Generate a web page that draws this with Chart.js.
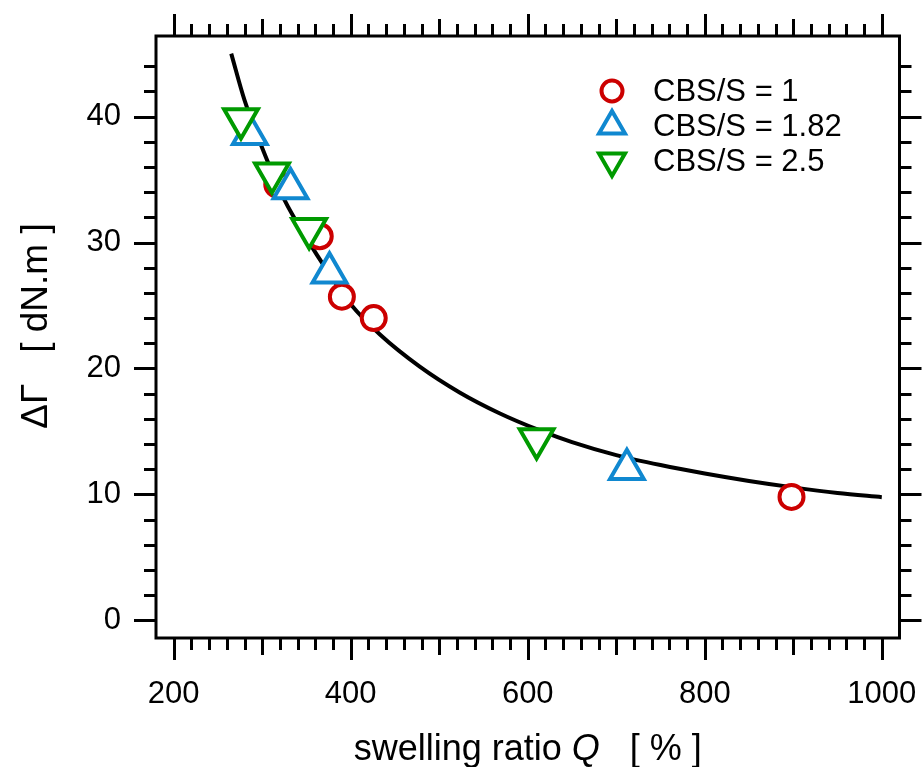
<!DOCTYPE html>
<html lang="en">
<head>
<meta charset="UTF-8">
<title>Swelling ratio vs torque difference</title>
<script src="https://cdn.jsdelivr.net/npm/chart.js"></script>
<style>
  body { margin: 0; background: #fff; }
</style>
</head>
<body>
<canvas id="chart" width="923" height="767"></canvas>
<script>
// measured points, one pair of arrays per CBS/S ratio
const q1 = [317, 365, 390, 426, 898];
const g1 = [34.6, 30.5, 25.7, 24.0, 9.8];
const q182 = [286, 332, 376, 712];
const g182 = [38.6, 34.3, 27.6, 12.0];
const q25 = [276, 311, 353, 610];
const g25 = [39.8, 35.5, 31.1, 14.4];

// fitted curve
const fitQ = [265, 280, 300, 325, 350, 375, 400, 433, 478, 523, 568, 613, 650, 700, 750, 800, 850, 900, 950, 1000];
const fitG = [45.0, 41.3, 37.5, 33.4, 30.35, 27.6, 25.1, 22.7, 20.15, 18.1, 16.45, 15.1, 14.15, 13.12, 12.33, 11.66, 11.07, 10.56, 10.12, 9.78];

const xTicks = [200, 400, 600, 800, 1000];
const yTicks = [0, 10, 20, 30, 40];
const legendLabels = ['CBS/S = 1', 'CBS/S = 1.82', 'CBS/S = 2.5'];
const xTitle = [['swelling ratio ', 'normal'], ['Q', 'italic'], ['   [ % ]', 'normal']];
const yTitle = 'ΔΓ   [ dN.m ]';

const FONT = '"Liberation Sans", Arial, sans-serif';
const RED = '#cc0000', BLUE = '#1088d0', GREEN = '#009a00';

const toPts = (xs, ys) => xs.map((v, i) => ({ x: v, y: ys[i] }));

function marker(color, style, rot, r) {
  return {
    pointStyle: style, pointRotation: rot, pointRadius: r, pointHoverRadius: r,
    pointBorderWidth: 4, pointBorderColor: color, pointBackgroundColor: '#fff',
    borderColor: color, backgroundColor: '#fff', showLine: false
  };
}

const datasets = [
  Object.assign({ label: legendLabels[0], data: toPts(q1, g1), order: 3, legendR: 10.5 }, marker(RED, 'circle', 0, 12)),
  Object.assign({ label: legendLabels[1], data: toPts(q182, g182), order: 2, legendR: 15 }, marker(BLUE, 'triangle', 0, 19.5)),
  Object.assign({ label: legendLabels[2], data: toPts(q25, g25), order: 1, legendR: 15 }, marker(GREEN, 'triangle', 180, 19.5)),
  {
    label: 'fit', data: toPts(fitQ, fitG), order: 4, showLine: true,
    borderColor: '#000', borderWidth: 4, pointRadius: 0, pointHoverRadius: 0,
    cubicInterpolationMode: 'monotone', fill: false
  }
];

// box frame with outward ticks on all four sides
const frame = {
  id: 'frame',
  afterDraw(chart) {
    const { ctx, chartArea: a, scales: { x, y } } = chart;
    ctx.save();
    ctx.strokeStyle = '#000';
    ctx.lineWidth = 3;
    ctx.beginPath();
    for (let v = 200; v <= 1000; v += 20) {
      const px = Math.round(x.getPixelForValue(v)) + 0.5;
      const len = v % 200 === 0 ? 22 : (v % 100 === 0 ? 17 : 12);
      ctx.moveTo(px, a.bottom); ctx.lineTo(px, a.bottom + len);
      ctx.moveTo(px, a.top); ctx.lineTo(px, a.top - len);
    }
    for (let v = 0; v <= 44; v += 2) {
      const py = Math.round(y.getPixelForValue(v)) + 0.5;
      const len = v % 10 === 0 ? 22 : 12;
      ctx.moveTo(a.left, py); ctx.lineTo(a.left - len, py);
      ctx.moveTo(a.right, py); ctx.lineTo(a.right + len, py);
    }
    ctx.stroke();
    ctx.strokeRect(a.left, a.top, a.right - a.left, a.bottom - a.top);
    ctx.restore();
  }
};

const legendBox = {
  id: 'legendBox',
  afterDraw(chart) {
    const { ctx, chartArea: a } = chart;
    const rows = [91, 126, 161];
    ctx.save();
    ctx.font = '31px ' + FONT;
    ctx.textBaseline = 'middle';
    ctx.textAlign = 'left';
    chart.data.datasets.slice(0, 3).forEach((ds, i) => {
      const cx = a.left + 456, cy = rows[i];
      ctx.fillStyle = '#fff';
      ctx.strokeStyle = ds.pointBorderColor;
      ctx.lineWidth = 4;
      Chart.helpers.drawPoint(ctx, {
        pointStyle: ds.pointStyle, rotation: ds.pointRotation,
        radius: ds.legendR, borderWidth: 4
      }, cx, cy);
      ctx.fillStyle = '#000';
      ctx.fillText(ds.label, a.left + 497, cy + 1);
    });
    ctx.restore();
  }
};

const titles = {
  id: 'titles',
  afterDraw(chart) {
    const { ctx, chartArea: a } = chart;
    ctx.save();
    ctx.fillStyle = '#000';
    ctx.textBaseline = 'alphabetic';
    const fontFor = s => s + ' 36px ' + FONT;
    let total = 0;
    xTitle.forEach(([t, s]) => { ctx.font = fontFor(s); total += ctx.measureText(t).width; });
    let cx = (a.left + a.right) / 2 - total / 2;
    xTitle.forEach(([t, s]) => {
      ctx.font = fontFor(s);
      ctx.fillText(t, cx, 760);
      cx += ctx.measureText(t).width;
    });
    ctx.font = '37px ' + FONT;
    ctx.translate(47, 326);
    ctx.rotate(-Math.PI / 2);
    ctx.textAlign = 'center';
    ctx.fillText(yTitle, 0, 0);
    ctx.restore();
  }
};

function noPad(s) {
  s.paddingLeft = 0; s.paddingRight = 0; s.paddingTop = 0; s.paddingBottom = 0;
}

new Chart(document.getElementById('chart'), {
  type: 'scatter',
  data: { datasets },
  options: {
    responsive: false,
    animation: false,
    devicePixelRatio: 1,
    layout: { padding: { top: 36, right: 21, left: 0, bottom: 0 } },
    plugins: { legend: { display: false }, tooltip: { enabled: false } },
    scales: {
      x: {
        type: 'linear', min: 180, max: 1020,
        grid: { display: false }, border: { display: false },
        afterBuildTicks: s => { s.ticks = xTicks.map(v => ({ value: v })); },
        afterFit: s => { s.height = 129; noPad(s); },
        ticks: {
          font: { family: FONT, size: 31 }, color: '#000', padding: 30,
          maxRotation: 0, autoSkip: false, callback: v => String(v)
        }
      },
      y: {
        type: 'linear', min: -1.4, max: 46.4,
        grid: { display: false }, border: { display: false },
        afterBuildTicks: s => { s.ticks = yTicks.map(v => ({ value: v })); },
        afterFit: s => { s.width = 156; noPad(s); },
        ticks: {
          font: { family: FONT, size: 31 }, color: '#000', padding: 27,
          autoSkip: false, callback: v => String(v)
        }
      }
    }
  },
  plugins: [frame, legendBox, titles]
});
</script>
</body>
</html>
